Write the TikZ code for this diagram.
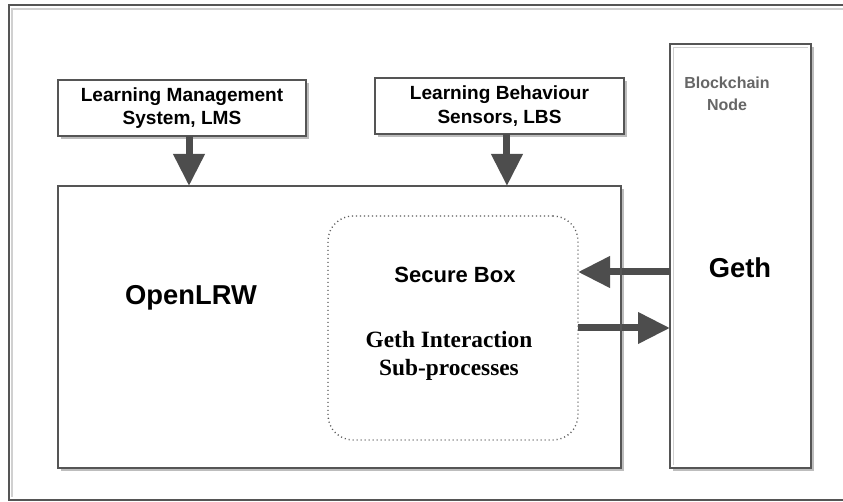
\documentclass[tikz,border=0pt]{standalone}
\usepackage{fontspec}
\setmainfont{Liberation Serif}
\setsansfont{Liberation Sans}
\usetikzlibrary{arrows.meta,shadows}
\definecolor{linecol}{HTML}{555555}
\definecolor{arrowcol}{HTML}{4D4D4D}
\definecolor{lightcol}{HTML}{D0D0D0}
\definecolor{shadowcol}{HTML}{BDBDBD}
\definecolor{bctext}{HTML}{666666}
\begin{document}
\begin{tikzpicture}[x=0.75pt,y=-0.75pt,
  box/.style={draw=linecol, line width=1.5pt, fill=white, inner sep=0pt, outer sep=0pt,
    drop shadow={shadow xshift=2.25pt, shadow yshift=-2.25pt, fill=shadowcol, opacity=1}},
  smalltxt/.style={font=\sffamily\bfseries\fontsize{14.3pt}{17.5pt}\selectfont, align=center},
  bigtxt/.style={font=\sffamily\bfseries\fontsize{20.5pt}{24pt}\selectfont},
  bigarrow/.style={draw=arrowcol, line width=5.25pt, -{Triangle[length=24pt,width=22.5pt]}, arrowcol},
  securebox/.style={draw=black!65, line width=1pt, dash pattern=on 0.8pt off 2.2pt,
    rounded corners=18.75pt, inner sep=0pt, outer sep=0pt}
]
\useasboundingbox (0,0) rectangle (843,502);
% outer frame
\draw[lightcol, line width=1.2pt] (843,9) -- (12,9) -- (12,497);
\draw[linecol, line width=1.5pt] (843,5) -- (9,5) -- (9,500) -- (843,500);

% boxes
\node[box, minimum width=186pt, minimum height=42pt] (lms) at (182,108) {};
\node[smalltxt] (lmst) at (182,108) {Learning Management\\System, LMS};
\node[box, minimum width=186.75pt, minimum height=42pt] (lbs) at (499.5,106) {};
\node[smalltxt] (lbst) at (499.5,106) {Learning Behaviour\\Sensors, LBS};

\node[box, minimum width=105.75pt, minimum height=318pt] (bc) at (740.5,256) {};
\draw[lightcol, line width=1.2pt] ([xshift=2.5pt,yshift=2pt]bc.south west) -- ([xshift=2.5pt,yshift=-2.5pt]bc.north west) -- ([xshift=-2pt,yshift=-2.5pt]bc.north east);
\node[font=\sffamily\bfseries\fontsize{12pt}{16.5pt}\selectfont, align=center, text=bctext] (bct) at (727,94) {Blockchain\\Node};
\node[bigtxt] (geth) at (740,268) {Geth};

\node[box, minimum width=422.25pt, minimum height=211.5pt] (olrw) at (339.5,327) {};
\node[bigtxt] (olrwt) at (191,298) {OpenLRW};

\node[securebox, minimum width=187.5pt, minimum height=168pt] (sb) at (453,328) {};
\node[font=\sffamily\bfseries\fontsize{16.5pt}{19pt}\selectfont] (sbt) at (455,275) {Secure Box};
\node[font=\rmfamily\bfseries\fontsize{17.5pt}{21pt}\selectfont, align=center] (gis) at (449,356) {Geth Interaction\\Sub-processes};

% arrows
\draw[bigarrow] ([xshift=5.25pt]lms.south) -- ([xshift=5.25pt]lms.south |- olrw.north);
\draw[bigarrow] ([xshift=5.6pt]lbs.south) -- ([xshift=5.6pt]lbs.south |- olrw.north);
\draw[bigarrow] ([yshift=-12pt]bc.west) -- ([yshift=-12pt]bc.west -| sb.east);
\draw[bigarrow] (sb.east) -- (sb.east -| bc.west);
\draw[linecol, line width=1.5pt] (olrw.north east) -- (olrw.south east);
\end{tikzpicture}
\end{document}
